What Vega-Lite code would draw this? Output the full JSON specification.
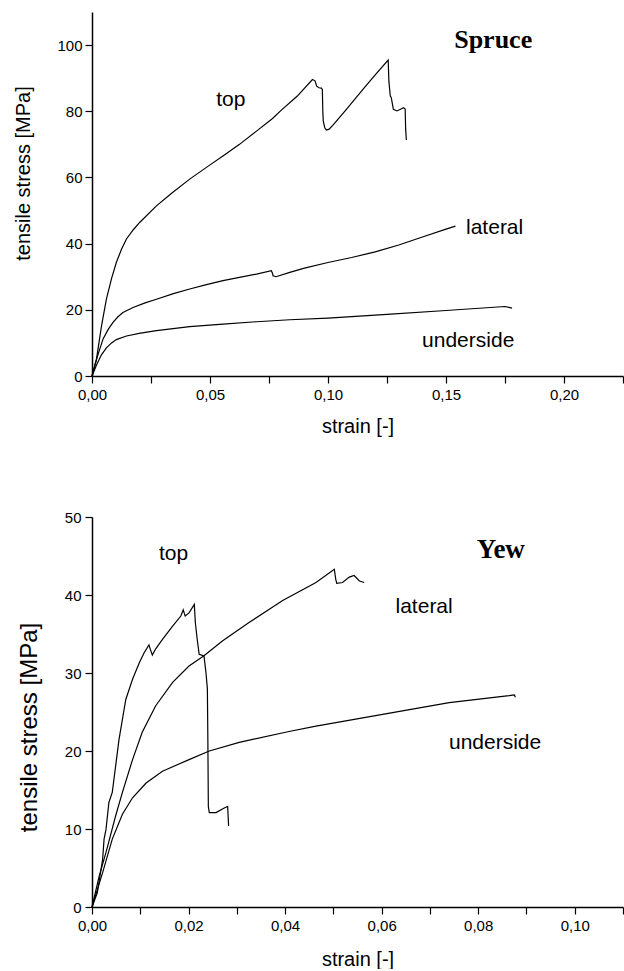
{
  "$schema": "https://vega.github.io/schema/vega-lite/v6.json",
  "padding": {"left": 13, "top": 12, "right": 0, "bottom": 0},
  "bounds": "flush",
  "spacing": 141,
  "background": "white",
  "config": {
    "view": {"stroke": null},
    "font": "Liberation Sans",
    "axis": {
      "grid": false,
      "domainColor": "black",
      "domainWidth": 1.5,
      "tickColor": "black",
      "tickWidth": 1.2,
      "labelColor": "black",
      "titleColor": "black",
      "labelFont": "Liberation Sans",
      "titleFont": "Liberation Sans",
      "labelFontSize": 15,
      "titleFontWeight": "normal",
      "labelOverlap": false,
      "labelFlush": false
    }
  },
  "datasets": {
    "spruce": [
      {"series": "top", "i": 0, "strain": 0, "stress": 0},
      {"series": "top", "i": 1, "strain": 0.0019, "stress": 5.1},
      {"series": "top", "i": 2, "strain": 0.004, "stress": 15},
      {"series": "top", "i": 3, "strain": 0.0061, "stress": 23.2},
      {"series": "top", "i": 4, "strain": 0.0083, "stress": 29.5},
      {"series": "top", "i": 5, "strain": 0.0103, "stress": 34.3},
      {"series": "top", "i": 6, "strain": 0.0125, "stress": 38.3},
      {"series": "top", "i": 7, "strain": 0.0146, "stress": 41.4},
      {"series": "top", "i": 8, "strain": 0.0175, "stress": 44.2},
      {"series": "top", "i": 9, "strain": 0.0202, "stress": 46.4},
      {"series": "top", "i": 10, "strain": 0.0273, "stress": 51.4},
      {"series": "top", "i": 11, "strain": 0.034, "stress": 55.4},
      {"series": "top", "i": 12, "strain": 0.0414, "stress": 59.5},
      {"series": "top", "i": 13, "strain": 0.05, "stress": 63.8},
      {"series": "top", "i": 14, "strain": 0.0555, "stress": 66.5},
      {"series": "top", "i": 15, "strain": 0.0625, "stress": 70.0},
      {"series": "top", "i": 16, "strain": 0.0697, "stress": 74.0},
      {"series": "top", "i": 17, "strain": 0.0765, "stress": 77.8},
      {"series": "top", "i": 18, "strain": 0.08, "stress": 80.2},
      {"series": "top", "i": 19, "strain": 0.087, "stress": 84.6},
      {"series": "top", "i": 20, "strain": 0.0934, "stress": 89.6},
      {"series": "top", "i": 21, "strain": 0.0945, "stress": 89.2},
      {"series": "top", "i": 22, "strain": 0.0952, "stress": 87.6},
      {"series": "top", "i": 23, "strain": 0.0962, "stress": 87.1},
      {"series": "top", "i": 24, "strain": 0.0972, "stress": 87.0},
      {"series": "top", "i": 25, "strain": 0.0976, "stress": 86.6},
      {"series": "top", "i": 26, "strain": 0.0978, "stress": 80.0},
      {"series": "top", "i": 27, "strain": 0.098, "stress": 77.0},
      {"series": "top", "i": 28, "strain": 0.0986, "stress": 75.1},
      {"series": "top", "i": 29, "strain": 0.0993, "stress": 74.3},
      {"series": "top", "i": 30, "strain": 0.1005, "stress": 74.6},
      {"series": "top", "i": 31, "strain": 0.1021, "stress": 75.8},
      {"series": "top", "i": 32, "strain": 0.1078, "stress": 80.6},
      {"series": "top", "i": 33, "strain": 0.1148, "stress": 86.6},
      {"series": "top", "i": 34, "strain": 0.12, "stress": 91.0},
      {"series": "top", "i": 35, "strain": 0.1255, "stress": 95.5},
      {"series": "top", "i": 36, "strain": 0.1258, "stress": 89.1},
      {"series": "top", "i": 37, "strain": 0.1264, "stress": 84.6},
      {"series": "top", "i": 38, "strain": 0.1268, "stress": 84.2},
      {"series": "top", "i": 39, "strain": 0.1277, "stress": 80.6},
      {"series": "top", "i": 40, "strain": 0.1292, "stress": 80.1},
      {"series": "top", "i": 41, "strain": 0.1307, "stress": 80.6},
      {"series": "top", "i": 42, "strain": 0.132, "stress": 81.1},
      {"series": "top", "i": 43, "strain": 0.1327, "stress": 80.7},
      {"series": "top", "i": 44, "strain": 0.1329, "stress": 74.6},
      {"series": "top", "i": 45, "strain": 0.1332, "stress": 71.3},
      {"series": "lateral", "i": 0, "strain": 0, "stress": 0},
      {"series": "lateral", "i": 1, "strain": 0.0015, "stress": 4.0},
      {"series": "lateral", "i": 2, "strain": 0.003, "stress": 7.5},
      {"series": "lateral", "i": 3, "strain": 0.0047, "stress": 11.2},
      {"series": "lateral", "i": 4, "strain": 0.0068, "stress": 14.0},
      {"series": "lateral", "i": 5, "strain": 0.0089, "stress": 16.2},
      {"series": "lateral", "i": 6, "strain": 0.011, "stress": 17.9},
      {"series": "lateral", "i": 7, "strain": 0.0131, "stress": 19.2},
      {"series": "lateral", "i": 8, "strain": 0.0174, "stress": 20.7},
      {"series": "lateral", "i": 9, "strain": 0.0225, "stress": 22.1},
      {"series": "lateral", "i": 10, "strain": 0.0273, "stress": 23.2},
      {"series": "lateral", "i": 11, "strain": 0.0345, "stress": 24.9},
      {"series": "lateral", "i": 12, "strain": 0.0414, "stress": 26.3},
      {"series": "lateral", "i": 13, "strain": 0.0485, "stress": 27.6},
      {"series": "lateral", "i": 14, "strain": 0.0555, "stress": 28.8},
      {"series": "lateral", "i": 15, "strain": 0.0625, "stress": 29.8},
      {"series": "lateral", "i": 16, "strain": 0.0697, "stress": 30.8},
      {"series": "lateral", "i": 17, "strain": 0.076, "stress": 31.8},
      {"series": "lateral", "i": 18, "strain": 0.0765, "stress": 31.0},
      {"series": "lateral", "i": 19, "strain": 0.0767, "stress": 30.3},
      {"series": "lateral", "i": 20, "strain": 0.078, "stress": 30.0},
      {"series": "lateral", "i": 21, "strain": 0.0838, "stress": 31.3},
      {"series": "lateral", "i": 22, "strain": 0.09, "stress": 32.6},
      {"series": "lateral", "i": 23, "strain": 0.1, "stress": 34.3},
      {"series": "lateral", "i": 24, "strain": 0.11, "stress": 35.8},
      {"series": "lateral", "i": 25, "strain": 0.12, "stress": 37.5},
      {"series": "lateral", "i": 26, "strain": 0.13, "stress": 39.6},
      {"series": "lateral", "i": 27, "strain": 0.14, "stress": 42.0},
      {"series": "lateral", "i": 28, "strain": 0.15, "stress": 44.4},
      {"series": "lateral", "i": 29, "strain": 0.154, "stress": 45.3},
      {"series": "underside", "i": 0, "strain": 0, "stress": 0},
      {"series": "underside", "i": 1, "strain": 0.002, "stress": 3.5},
      {"series": "underside", "i": 2, "strain": 0.004, "stress": 6.4},
      {"series": "underside", "i": 3, "strain": 0.0061, "stress": 8.5},
      {"series": "underside", "i": 4, "strain": 0.0083, "stress": 10.0},
      {"series": "underside", "i": 5, "strain": 0.0103, "stress": 11.0},
      {"series": "underside", "i": 6, "strain": 0.0146, "stress": 12.1},
      {"series": "underside", "i": 7, "strain": 0.02, "stress": 12.9},
      {"series": "underside", "i": 8, "strain": 0.0273, "stress": 13.7},
      {"series": "underside", "i": 9, "strain": 0.0414, "stress": 14.9},
      {"series": "underside", "i": 10, "strain": 0.0555, "stress": 15.7},
      {"series": "underside", "i": 11, "strain": 0.0697, "stress": 16.4},
      {"series": "underside", "i": 12, "strain": 0.0838, "stress": 17.0},
      {"series": "underside", "i": 13, "strain": 0.1, "stress": 17.5},
      {"series": "underside", "i": 14, "strain": 0.125, "stress": 18.6},
      {"series": "underside", "i": 15, "strain": 0.15, "stress": 19.8},
      {"series": "underside", "i": 16, "strain": 0.175, "stress": 21.0},
      {"series": "underside", "i": 17, "strain": 0.178, "stress": 20.5}
    ],
    "yew": [
      {"series": "top", "i": 0, "strain": 0, "stress": 0},
      {"series": "top", "i": 1, "strain": 0.0011, "stress": 1.8},
      {"series": "top", "i": 2, "strain": 0.0022, "stress": 6.1},
      {"series": "top", "i": 3, "strain": 0.0025, "stress": 8.7},
      {"series": "top", "i": 4, "strain": 0.0029, "stress": 9.95},
      {"series": "top", "i": 5, "strain": 0.0035, "stress": 13.4},
      {"series": "top", "i": 6, "strain": 0.0042, "stress": 14.7},
      {"series": "top", "i": 7, "strain": 0.0056, "stress": 21.5},
      {"series": "top", "i": 8, "strain": 0.007, "stress": 26.6},
      {"series": "top", "i": 9, "strain": 0.0084, "stress": 29.2},
      {"series": "top", "i": 10, "strain": 0.0098, "stress": 31.3},
      {"series": "top", "i": 11, "strain": 0.0108, "stress": 32.6},
      {"series": "top", "i": 12, "strain": 0.0118, "stress": 33.6},
      {"series": "top", "i": 13, "strain": 0.0121, "stress": 33.0},
      {"series": "top", "i": 14, "strain": 0.0125, "stress": 32.3},
      {"series": "top", "i": 15, "strain": 0.0132, "stress": 33.1},
      {"series": "top", "i": 16, "strain": 0.0146, "stress": 34.3},
      {"series": "top", "i": 17, "strain": 0.0167, "stress": 36.0},
      {"series": "top", "i": 18, "strain": 0.0184, "stress": 37.3},
      {"series": "top", "i": 19, "strain": 0.0189, "stress": 38.1},
      {"series": "top", "i": 20, "strain": 0.0193, "stress": 37.3},
      {"series": "top", "i": 21, "strain": 0.0201, "stress": 37.7},
      {"series": "top", "i": 22, "strain": 0.0212, "stress": 38.8},
      {"series": "top", "i": 23, "strain": 0.0214, "stress": 36.5},
      {"series": "top", "i": 24, "strain": 0.0218, "stress": 34.3},
      {"series": "top", "i": 25, "strain": 0.0222, "stress": 32.4},
      {"series": "top", "i": 26, "strain": 0.0232, "stress": 32.2},
      {"series": "top", "i": 27, "strain": 0.0236, "stress": 30.1},
      {"series": "top", "i": 28, "strain": 0.0239, "stress": 28.0},
      {"series": "top", "i": 29, "strain": 0.024, "stress": 21.5},
      {"series": "top", "i": 30, "strain": 0.0241, "stress": 12.9},
      {"series": "top", "i": 31, "strain": 0.0243, "stress": 12.1},
      {"series": "top", "i": 32, "strain": 0.0257, "stress": 12.1},
      {"series": "top", "i": 33, "strain": 0.0274, "stress": 12.7},
      {"series": "top", "i": 34, "strain": 0.0281, "stress": 12.9},
      {"series": "top", "i": 35, "strain": 0.0283, "stress": 10.4},
      {"series": "lateral", "i": 0, "strain": 0, "stress": 0},
      {"series": "lateral", "i": 1, "strain": 0.0015, "stress": 4.0},
      {"series": "lateral", "i": 2, "strain": 0.0029, "stress": 7.0},
      {"series": "lateral", "i": 3, "strain": 0.0049, "stress": 11.7},
      {"series": "lateral", "i": 4, "strain": 0.0063, "stress": 14.7},
      {"series": "lateral", "i": 5, "strain": 0.0084, "stress": 18.9},
      {"series": "lateral", "i": 6, "strain": 0.0104, "stress": 22.4},
      {"series": "lateral", "i": 7, "strain": 0.0132, "stress": 25.8},
      {"series": "lateral", "i": 8, "strain": 0.0167, "stress": 28.8},
      {"series": "lateral", "i": 9, "strain": 0.0201, "stress": 30.9},
      {"series": "lateral", "i": 10, "strain": 0.0232, "stress": 32.2},
      {"series": "lateral", "i": 11, "strain": 0.027, "stress": 34.1},
      {"series": "lateral", "i": 12, "strain": 0.0326, "stress": 36.5},
      {"series": "lateral", "i": 13, "strain": 0.0395, "stress": 39.3},
      {"series": "lateral", "i": 14, "strain": 0.0464, "stress": 41.6},
      {"series": "lateral", "i": 15, "strain": 0.0502, "stress": 43.3},
      {"series": "lateral", "i": 16, "strain": 0.0505, "stress": 42.0},
      {"series": "lateral", "i": 17, "strain": 0.0507, "stress": 41.5},
      {"series": "lateral", "i": 18, "strain": 0.0519, "stress": 41.6},
      {"series": "lateral", "i": 19, "strain": 0.0533, "stress": 42.3},
      {"series": "lateral", "i": 20, "strain": 0.0543, "stress": 42.5},
      {"series": "lateral", "i": 21, "strain": 0.0554, "stress": 41.8},
      {"series": "lateral", "i": 22, "strain": 0.0564, "stress": 41.6},
      {"series": "underside", "i": 0, "strain": 0, "stress": 0},
      {"series": "underside", "i": 1, "strain": 0.0022, "stress": 4.4},
      {"series": "underside", "i": 2, "strain": 0.0042, "stress": 8.7},
      {"series": "underside", "i": 3, "strain": 0.0063, "stress": 11.9},
      {"series": "underside", "i": 4, "strain": 0.0084, "stress": 14.0},
      {"series": "underside", "i": 5, "strain": 0.0112, "stress": 15.9},
      {"series": "underside", "i": 6, "strain": 0.0146, "stress": 17.4},
      {"series": "underside", "i": 7, "strain": 0.0201, "stress": 18.9},
      {"series": "underside", "i": 8, "strain": 0.0243, "stress": 20.0},
      {"series": "underside", "i": 9, "strain": 0.0305, "stress": 21.1},
      {"series": "underside", "i": 10, "strain": 0.0408, "stress": 22.5},
      {"series": "underside", "i": 11, "strain": 0.0464, "stress": 23.2},
      {"series": "underside", "i": 12, "strain": 0.0602, "stress": 24.7},
      {"series": "underside", "i": 13, "strain": 0.074, "stress": 26.2},
      {"series": "underside", "i": 14, "strain": 0.0864, "stress": 27.1},
      {"series": "underside", "i": 15, "strain": 0.0875, "stress": 27.2},
      {"series": "underside", "i": 16, "strain": 0.0877, "stress": 26.9}
    ],
    "spruceLabels": [
      {"strain": 0.0588, "stress": 83.3, "label": "top"},
      {"strain": 0.1706, "stress": 44.8, "label": "lateral"},
      {"strain": 0.1594, "stress": 10.6, "label": "underside"}
    ],
    "spruceName": [
      {"strain": 0.17, "stress": 101.5, "label": "Spruce"}
    ],
    "yewLabels": [
      {"strain": 0.0169, "stress": 45.3, "label": "top"},
      {"strain": 0.0688, "stress": 38.4, "label": "lateral"},
      {"strain": 0.0835, "stress": 21.0, "label": "underside"}
    ],
    "yewName": [
      {"strain": 0.0847, "stress": 45.8, "label": "Yew"}
    ]
  },
  "vconcat": [
    {
      "width": 531,
      "height": 364,
      "layer": [
        {
          "data": {"name": "spruce"},
          "mark": {"type": "line", "color": "black", "strokeWidth": 1.2},
          "encoding": {
            "x": {
              "field": "strain", "type": "quantitative",
              "scale": {"domain": [0, 0.225], "nice": false, "zero": false},
              "axis": {
                "title": "strain [-]",
                "values": [0, 0.025, 0.05, 0.075, 0.1, 0.125, 0.15, 0.175, 0.2, 0.225],
                "labelExpr": "round(datum.value*1000) % 50 === 0 ? replace(format(datum.value, '.2f'), '.', ',') : ''",
                "labelFontSize": 15,
                "tickSize": 7,
                "labelPadding": 4,
                "titleFontSize": 20,
                "titleY": 40,
                "titleBaseline": "top",
                "encode": {"ticks": {"update": {"y2": {"signal": "round(datum.value*1000) % 50 === 0 ? 7 : 4"}}}}
              }
            },
            "y": {
              "field": "stress", "type": "quantitative",
              "scale": {"domain": [0, 110], "nice": false, "zero": false},
              "axis": {
                "title": "tensile stress [MPa]",
                "values": [0, 10, 20, 30, 40, 50, 60, 70, 80, 90, 100, 110],
                "labelExpr": "datum.value % 20 === 0 ? format(datum.value, 'd') : ''",
                "labelFontSize": 15,
                "tickSize": 7,
                "labelPadding": 3,
                "titleFontSize": 20,
                "titleX": -59,
                "titleY": 161,
                "titleAlign": "center",
                "titleBaseline": "bottom",
                "encode": {"ticks": {"update": {"x2": {"signal": "datum.value % 20 === 0 ? -7 : -4"}}}}
              }
            },
            "detail": {"field": "series"},
            "order": {"field": "i", "type": "quantitative"}
          }
        },
        {
          "data": {"name": "spruceLabels"},
          "mark": {"type": "text", "font": "Liberation Sans", "fontSize": 21, "color": "black", "align": "center", "baseline": "middle"},
          "encoding": {
            "x": {"field": "strain", "type": "quantitative"},
            "y": {"field": "stress", "type": "quantitative"},
            "text": {"field": "label"}
          }
        },
        {
          "data": {"name": "spruceName"},
          "mark": {"type": "text", "font": "Liberation Serif", "fontWeight": "bold", "fontSize": 26, "color": "black", "align": "center", "baseline": "middle"},
          "encoding": {
            "x": {"field": "strain", "type": "quantitative"},
            "y": {"field": "stress", "type": "quantitative"},
            "text": {"field": "label"}
          }
        }
      ]
    },
    {
      "width": 531,
      "height": 390,
      "layer": [
        {
          "data": {"name": "yew"},
          "mark": {"type": "line", "color": "black", "strokeWidth": 1.2},
          "encoding": {
            "x": {
              "field": "strain", "type": "quantitative",
              "scale": {"domain": [0, 0.11], "nice": false, "zero": false},
              "axis": {
                "title": "strain [-]",
                "values": [0, 0.01, 0.02, 0.03, 0.04, 0.05, 0.06, 0.07, 0.08, 0.09, 0.1, 0.11],
                "labelExpr": "round(datum.value*1000) % 20 === 0 ? replace(format(datum.value, '.2f'), '.', ',') : ''",
                "labelFontSize": 15,
                "tickSize": 7,
                "labelPadding": 4,
                "titleFontSize": 20,
                "titleY": 42,
                "titleBaseline": "top",
                "encode": {"ticks": {"update": {"y2": {"signal": "round(datum.value*1000) % 20 === 0 ? 7 : 4"}}}}
              }
            },
            "y": {
              "field": "stress", "type": "quantitative",
              "scale": {"domain": [0, 50], "nice": false, "zero": false},
              "axis": {
                "title": "tensile stress [MPa]",
                "values": [0, 5, 10, 15, 20, 25, 30, 35, 40, 45, 50],
                "labelExpr": "datum.value % 10 === 0 ? format(datum.value, 'd') : ''",
                "labelFontSize": 15,
                "tickSize": 7,
                "labelPadding": 4,
                "titleFontSize": 24,
                "titleX": -51,
                "titleY": 210,
                "titleAlign": "center",
                "titleBaseline": "bottom",
                "encode": {"ticks": {"update": {"x2": {"signal": "datum.value % 10 === 0 ? -7 : -4"}}}}
              }
            },
            "detail": {"field": "series"},
            "order": {"field": "i", "type": "quantitative"}
          }
        },
        {
          "data": {"name": "yewLabels"},
          "mark": {"type": "text", "font": "Liberation Sans", "fontSize": 21, "color": "black", "align": "center", "baseline": "middle"},
          "encoding": {
            "x": {"field": "strain", "type": "quantitative"},
            "y": {"field": "stress", "type": "quantitative"},
            "text": {"field": "label"}
          }
        },
        {
          "data": {"name": "yewName"},
          "mark": {"type": "text", "font": "Liberation Serif", "fontWeight": "bold", "fontSize": 27, "color": "black", "align": "center", "baseline": "middle"},
          "encoding": {
            "x": {"field": "strain", "type": "quantitative"},
            "y": {"field": "stress", "type": "quantitative"},
            "text": {"field": "label"}
          }
        }
      ]
    }
  ]
}
